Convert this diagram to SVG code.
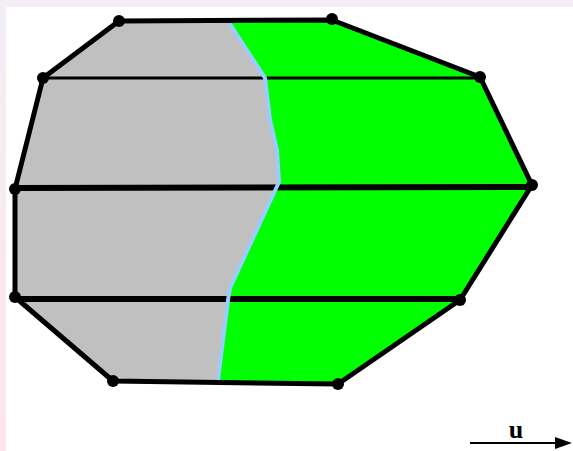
<svg xmlns="http://www.w3.org/2000/svg" width="573" height="451" viewBox="0 0 573 451">
<defs>
<linearGradient id="lg" x1="0" y1="0" x2="0" y2="1">
<stop offset="0" stop-color="#f3eef6"/>
<stop offset="1" stop-color="#fde6ea"/>
</linearGradient>
<clipPath id="poly">
<polygon points="119,21 332,20 480,77 532,185 460,300 338,384 113,381 15,297 15,189 43,78"/>
</clipPath>
<style>
.edge{fill:none;stroke:#000;stroke-width:5;stroke-linejoin:round}
.hl{stroke:#000;fill:none}
.v{fill:#000}
</style>
</defs>
<rect width="573" height="451" fill="#fff"/>
<rect x="0" y="0" width="573" height="7" fill="#f3eef6"/>
<rect x="0" y="0" width="6" height="451" fill="url(#lg)"/>
<g id="regions" clip-path="url(#poly)">
<rect x="0" y="0" width="573" height="451" fill="#c0c0c0"/>
<polygon fill="#00ff00" points="230,0 230,22 265,78 270,120 277,150 279,182 273,195 230,288 228,300 218,383 218,451 573,451 573,0"/>
</g>
<g id="connectors">
<line class="hl" x1="43" y1="78" x2="480" y2="78" stroke-width="3"/>
<line class="hl" x1="15" y1="188" x2="532" y2="187" stroke-width="6"/>
<line class="hl" x1="15" y1="299" x2="460" y2="299" stroke-width="6"/>
<polygon class="edge" points="119,21 332,20 480,77 532,185 460,300 338,384 113,381 15,297 15,189 43,78"/>
<polyline points="230,24 265,78 270,120 277,150 279,182 273,195 230,288 228,300 218,380" fill="none" stroke="#99ccff" stroke-width="4" stroke-linejoin="round"/>
</g>
<g id="vertices">
<circle class="v" cx="119" cy="21" r="6"/>
<circle class="v" cx="332" cy="19" r="6"/>
<circle class="v" cx="480" cy="77" r="6"/>
<circle class="v" cx="532" cy="185" r="6"/>
<circle class="v" cx="460" cy="300" r="6"/>
<circle class="v" cx="338" cy="384" r="6"/>
<circle class="v" cx="113" cy="381" r="6"/>
<circle class="v" cx="15" cy="297" r="6"/>
<circle class="v" cx="15" cy="189" r="6"/>
<circle class="v" cx="43" cy="78" r="6"/>
</g>
<g id="axis">
<line x1="470" y1="443" x2="558" y2="443" stroke="#000" stroke-width="2"/>
<polygon points="555,437 572,443 555,449" fill="#000"/>
<text x="516" y="438" text-anchor="middle" font-family="Liberation Serif, serif" font-weight="bold" font-size="26">u</text>
</g>
</svg>
